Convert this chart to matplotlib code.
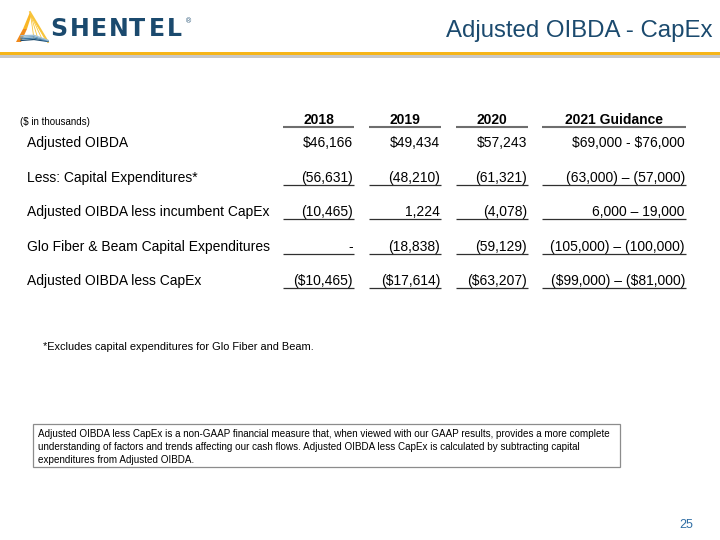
import matplotlib
matplotlib.use("Agg")
import matplotlib.pyplot as plt
from matplotlib.patches import Rectangle, Polygon

plt.rcParams['font.family'] = ['Liberation Sans', 'DejaVu Sans']

# table data
years = ["2018", "2019", "2020", "2021 Guidance"]
row_labels = ["Adjusted OIBDA",
              "Less: Capital Expenditures*",
              "Adjusted OIBDA less incumbent CapEx",
              "Glo Fiber & Beam Capital Expenditures",
              "Adjusted OIBDA less CapEx"]
col_2018 = ["$46,166", "(56,631)", "(10,465)", "-", "($10,465)"]
col_2019 = ["$49,434", "(48,210)", "1,224", "(18,838)", "($17,614)"]
col_2020 = ["$57,243", "(61,321)", "(4,078)", "(59,129)", "($63,207)"]
col_2021 = ["$69,000 - $76,000", "(63,000) \u2013 (57,000)", "6,000 \u2013 19,000",
            "(105,000) \u2013 (100,000)", "($99,000) \u2013 ($81,000)"]
underlined = [False, True, True, True, True]

title = "Adjusted OIBDA - CapEx"
footnote = "*Excludes capital expenditures for Glo Fiber and Beam."
note_lines = ["Adjusted OIBDA less CapEx is a non-GAAP financial measure that, when viewed with our GAAP results, provides a more complete",
              "understanding of factors and trends affecting our cash flows. Adjusted OIBDA less CapEx is calculated by subtracting capital",
              "expenditures from Adjusted OIBDA."]
page_no = "25"

navy = "#1b4a6e"
gold = "#f6b519"

fig = plt.figure(figsize=(7.2, 5.4), dpi=100)
ax = fig.add_axes([0, 0, 1, 1])
ax.set_xlim(0, 720)
ax.set_ylim(540, 0)
ax.axis('off')


def txt(x, y, s, **kw):
    kw.setdefault('va', 'baseline')
    return ax.text(x, y, s, parse_math=False, **kw)


# header band
ax.add_patch(Rectangle((0, 55), 720, 2.5, color="#c8c8c8", lw=0))
ax.add_patch(Rectangle((0, 51.5), 720, 3.5, color=gold, lw=0))

# logo icon
ax.add_patch(Polygon([(16, 42), (23, 29), (27, 29), (21, 42)], closed=True, color="#f08a1c", lw=0))
ax.add_patch(Polygon([(23, 29), (30, 12), (31.5, 15), (27, 29)], closed=True, color="#f9b625", lw=0))
ax.plot([30, 48], [12, 42], color="#f7c43c", lw=1.3)
for bx in [34, 38, 42, 45]:
    ax.plot([30.5, bx], [14, 39], color="#f8c53a", lw=0.6)
for k, c in enumerate(["#1b4a6e", "#3f77a0", "#6a9cc0", "#9fc0d8"]):
    ax.plot([21, 34, 48], [40.5 - k * 1.6, 39.5 - k * 1.4, 41.5 - k * 0.4], color=c, lw=0.9)

# logo letters
for ch, lx in zip("SHENTEL", [50, 70, 91, 109, 129, 149, 167]):
    ax.text(lx, 35.5, ch, fontsize=17, fontweight='bold', family='DejaVu Sans',
            color=navy, va='baseline', ha='left')
txt(186, 23, "\u00ae", fontsize=5, color=navy)

txt(712, 37, title, fontsize=17.3, color=navy, ha='right')

# table
col_left = [283, 369, 456, 542]
col_right = [354, 441, 528, 686]
header_base = 124
row_base = [147, 182, 216, 251, 285]

txt(20, 125, "($ in thousands)", fontsize=7, color="black")
for yr, l, r in zip(years, col_left, col_right):
    txt((l + r) / 2, header_base, yr, fontsize=10, fontweight='bold', ha='center')
    ax.plot([l, r], [127, 127], color="#6e6e6e", lw=1.5, solid_capstyle='butt')

columns = [col_2018, col_2019, col_2020, col_2021]
for i, lab in enumerate(row_labels):
    yb = row_base[i]
    txt(27, yb, lab, fontsize=10)
    for col, l, r in zip(columns, col_left, col_right):
        txt(r - 1, yb, col[i], fontsize=10, ha='right')
        if underlined[i]:
            ax.plot([l, r], [yb + 2.5, yb + 2.5], color="#303030", lw=0.9, solid_capstyle='butt')

txt(43, 350, footnote, fontsize=7.9)

# note box
ax.add_patch(Rectangle((33, 424), 587, 43, fill=False, ec="#8c8c8c", lw=0.9))
for j, line in enumerate(note_lines):
    txt(38, 437 + j * 13, line, fontsize=7.15)

txt(686, 528, page_no, fontsize=9, color="#2e6da4", ha='center')

fig.savefig("out.png", dpi=100)
